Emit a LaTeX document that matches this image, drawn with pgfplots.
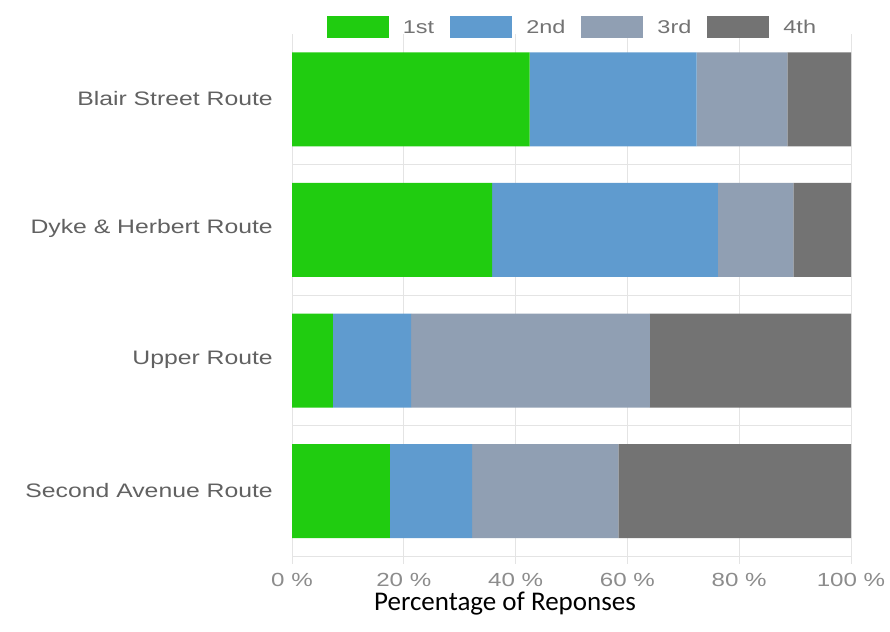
\documentclass[border=0pt]{standalone}
\usepackage{pgfplots}
\usepackage{pgfplotstable}
\usepackage{fontspec}
\pgfplotsset{compat=1.18}
\setmainfont{Liberation Sans}
\newfontfamily\arial{Liberation Sans}[FakeStretch=1.27]
\newfontfamily\calib{Carlito}

\definecolor{rankA}{HTML}{20CC10}
\definecolor{rankB}{HTML}{5F9BCF}
\definecolor{rankC}{HTML}{909FB3}
\definecolor{rankD}{HTML}{737373}
\definecolor{gridgray}{HTML}{E4E4E4}

% wide flat swatch for the legend
\pgfplotsset{rankbox/.style={legend image code/.code={\fill[##1] (0pt,-11pt) rectangle (62pt,11pt);}}}

% share of responses (%) by rank, one row per route
\pgfplotstableread{
pos first second third fourth
0   42.5  29.9   16.2  11.4
1   35.8  40.4   13.5  10.3
2   7.3   14.0   42.7  36.0
3   17.5  14.7   26.2  41.6
}\routes

\begin{document}
\begin{tikzpicture}
\path[use as bounding box] (0pt,0pt) rectangle (890pt,631pt);
\begin{axis}[
  at={(292pt,74.5pt)}, anchor=south west,
  scale only axis,
  width=559pt, height=522.5pt,
  xbar stacked,
  bar width=0.72,
  xmin=0, xmax=100,
  ymin=-0.5, ymax=3.5,
  y dir=reverse,
  axis line style={draw=none},
  xtick={0,20,40,60,80,100},
  xticklabels={0 \%,20 \%,40 \%,60 \%,80 \%,100 \%},
  xtick pos=bottom,
  xmajorgrids,
  grid style={gridgray, line width=0.8pt},
  major tick length=7pt,
  tick align=outside,
  tick style={gridgray, line width=0.8pt},
  xticklabel style={font=\arial\fontsize{19}{22}\selectfont, text=black!45, inner sep=0pt, yshift=-10pt},
  ytick={0,1,2,3},
  yticklabels={Blair Street Route, Dyke \& Herbert Route, Upper Route, Second Avenue Route},
  ytick pos=left,
  ytick style={draw=none},
  yticklabel style={font=\arial\fontsize{19.5}{23}\selectfont, text=black!62, inner sep=0pt, xshift=-12pt, yshift=1pt},
  extra y ticks={0.5,1.5,2.5,3.5},
  extra y tick labels={},
  extra y tick style={grid=major, tick style={draw=gridgray}, major tick length=19pt},
  xlabel={Percentage of Reponses},
  xlabel style={font=\calib\fontsize{27}{32}\selectfont, text=black,
    at={(axis description cs:0.381,-0.1035)}, anchor=base},
  legend columns=4,
  legend style={draw=none, fill=none, at={(0.5,1.0125)}, anchor=center,
    font=\arial\fontsize{18.5}{22}\selectfont, text=black!55,
    nodes={inner sep=0pt},
    column sep=0pt,
    /tikz/every odd column/.append style={column sep=14pt},
    /tikz/every even column/.append style={column sep=16pt}},
]
\addplot[fill=rankA, draw=none, rankbox] table[x=first, y=pos]{\routes};
\addplot[fill=rankB, draw=none, rankbox] table[x=second, y=pos]{\routes};
\addplot[fill=rankC, draw=none, rankbox] table[x=third, y=pos]{\routes};
\addplot[fill=rankD, draw=none, rankbox] table[x=fourth, y=pos]{\routes};
\legend{1st,2nd,3rd,4th}
\end{axis}
\end{tikzpicture}
\end{document}
